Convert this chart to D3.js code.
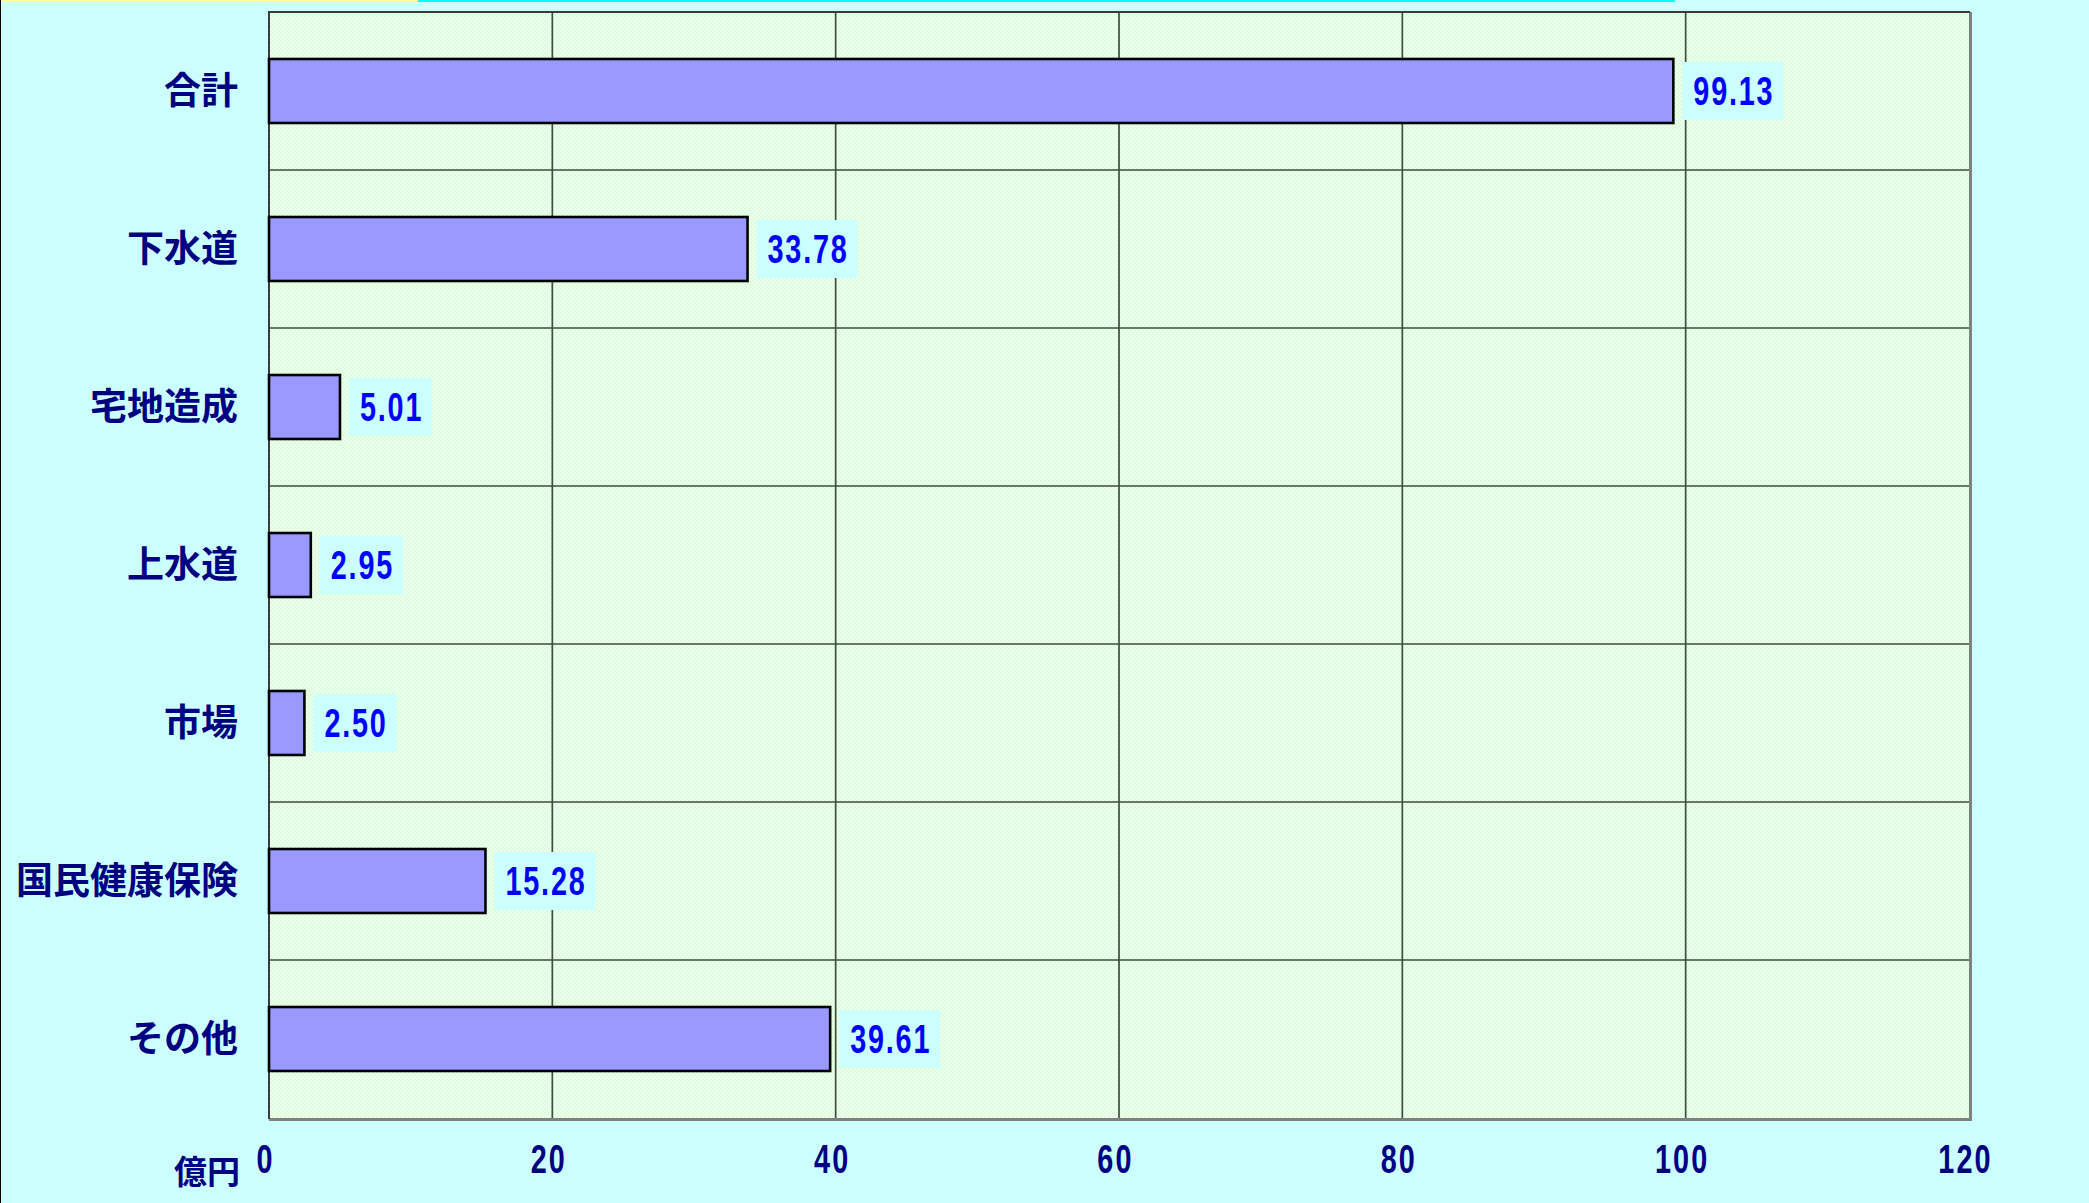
<!DOCTYPE html>
<html>
<head>
<meta charset="utf-8">
<script src="https://cdn.jsdelivr.net/npm/d3@7"></script>
<style>
  html, body { margin: 0; padding: 0; background: #ccffff; overflow: hidden; }
  .cat { font-family: "Noto Sans CJK JP", sans-serif; font-weight: 700; fill: #000080; }
  .num { font-family: "Liberation Sans", Arial, sans-serif; font-weight: 700; }
</style>
</head>
<body>
<div class="chart"></div>
<script>
const categories = ['合計', '下水道', '宅地造成', '上水道', '市場', '国民健康保険', 'その他'];
const values = [99.13, 33.78, 5.01, 2.95, 2.50, 15.28, 39.61];
const tickValues = [0, 20, 40, 60, 80, 100, 120];
const unitLabel = '億円';

const outerWidth = 2089;
const outerHeight = 1203;
const plot = { left: 269, top: 12, right: 1969, bottom: 1118 };
const squeeze = 0.72; // narrow digits like the original font

const svg = d3.select('.chart')
  .append('svg')
    .attr('width', outerWidth)
    .attr('height', outerHeight)
    .style('display', 'block');

// checkered light green fill of the plot area
const defs = svg.append('defs');
const pat = defs.append('pattern')
  .attr('id', 'checker')
  .attr('width', 4).attr('height', 4)
  .attr('patternUnits', 'userSpaceOnUse');
pat.append('rect').attr('width', 4).attr('height', 4).attr('fill', '#eefff0');
pat.append('rect').attr('width', 2).attr('height', 2).attr('fill', '#dcfddc');
pat.append('rect').attr('x', 2).attr('y', 2).attr('width', 2).attr('height', 2).attr('fill', '#dcfddc');

// page background and strips at top
svg.append('rect').attr('width', outerWidth).attr('height', outerHeight).attr('fill', '#ccffff');
svg.append('rect').attr('x', 0).attr('y', 0).attr('width', 418).attr('height', 2).attr('fill', '#ffff99');
svg.append('rect').attr('x', 418).attr('y', 0).attr('width', 1257).attr('height', 2).attr('fill', '#00ffff');
svg.append('line').attr('x1', 0.5).attr('x2', 0.5).attr('y1', 0).attr('y2', outerHeight)
  .attr('stroke', '#000').attr('stroke-width', 1);

const x = d3.scaleLinear()
  .domain([0, 120])
  .range([plot.left, plot.right]);

const y = d3.scaleBand()
  .domain(categories)
  .range([plot.top, plot.bottom])
  .paddingInner(0.595)
  .paddingOuter(0.2975);

const step = y.step();
const bw = y.bandwidth();

svg.append('rect')
  .attr('x', plot.left).attr('y', plot.top)
  .attr('width', plot.right - plot.left).attr('height', plot.bottom - plot.top)
  .attr('fill', 'url(#checker)');

// grid
svg.append('g')
  .selectAll('line')
  .data(tickValues.slice(1, -1))
  .join('line')
    .attr('x1', d => x(d)).attr('x2', d => x(d))
    .attr('y1', plot.top).attr('y2', plot.bottom)
    .attr('stroke', '#3f4d3f').attr('stroke-width', 1.7);

svg.append('g')
  .selectAll('line')
  .data(categories.slice(1))
  .join('line')
    .attr('x1', plot.left).attr('x2', plot.right)
    .attr('y1', d => y(d) - (step - bw) / 2)
    .attr('y2', d => y(d) - (step - bw) / 2)
    .attr('stroke', '#3f4d3f').attr('stroke-width', 1.7);

// plot border: dark top/left, gray shadow right/bottom
svg.append('line').attr('x1', plot.right + 1.5).attr('x2', plot.right + 1.5)
  .attr('y1', plot.top).attr('y2', plot.bottom + 3)
  .attr('stroke', '#808080').attr('stroke-width', 3);
svg.append('line').attr('x1', plot.left).attr('x2', plot.right + 3)
  .attr('y1', plot.bottom + 1.5).attr('y2', plot.bottom + 1.5)
  .attr('stroke', '#808080').attr('stroke-width', 3);
svg.append('line').attr('x1', plot.left - 1).attr('x2', plot.right + 1)
  .attr('y1', plot.top).attr('y2', plot.top)
  .attr('stroke', '#3a3a3a').attr('stroke-width', 2);
svg.append('line').attr('x1', plot.left).attr('x2', plot.left)
  .attr('y1', plot.top).attr('y2', plot.bottom + 1)
  .attr('stroke', '#3a3a3a').attr('stroke-width', 2);

// bars
const rows = categories.map((c, i) => ({ cat: c, val: values[i] }));

svg.append('g')
  .selectAll('rect')
  .data(rows)
  .join('rect')
    .attr('x', x(0))
    .attr('y', d => y(d.cat))
    .attr('width', d => x(d.val) - x(0))
    .attr('height', bw)
    .attr('fill', '#9999ff')
    .attr('stroke', '#000')
    .attr('stroke-width', 2.6);

// value labels with boxes
const lab = svg.append('g')
  .selectAll('g')
  .data(rows)
  .join('g');

lab.append('rect').attr('class', 'box').attr('fill', '#ccffff');
lab.append('text')
  .attr('class', 'num')
  .attr('transform', d => `translate(${x(d.val) + 20}, ${y(d.cat) + bw / 2}) scale(${squeeze}, 1)`)
  .attr('dy', '0.36em')
  .attr('font-size', 40)
  .attr('letter-spacing', 2.5)
  .attr('fill', '#0000ff')
  .text(d => d.val.toFixed(2));

lab.each(function (d) {
  const g = d3.select(this);
  const w = g.select('text').node().getComputedTextLength() * squeeze;
  g.select('rect')
    .attr('x', x(d.val) + 9)
    .attr('y', y(d.cat) + bw / 2 - 29)
    .attr('width', w + 20)
    .attr('height', 58);
});

// category labels
svg.append('g')
  .selectAll('text')
  .data(categories)
  .join('text')
    .attr('class', 'cat')
    .attr('x', 238)
    .attr('y', d => y(d) + bw / 2)
    .attr('dy', '0.36em')
    .attr('text-anchor', 'end')
    .attr('font-size', 37)
    .text(d => d);

// x axis labels
const xAxis = svg.append('g')
  .attr('transform', `translate(-4, 1159)`)
  .call(d3.axisBottom(x).tickValues(tickValues).tickSize(0).tickPadding(0).tickFormat(d3.format('d')));
xAxis.select('.domain').remove();
xAxis.selectAll('text')
  .attr('class', 'num')
  .attr('y', 0)
  .attr('dy', '0.36em')
  .attr('transform', `scale(${squeeze}, 1)`)
  .attr('font-size', 40)
  .attr('letter-spacing', 3)
  .attr('fill', '#000080');

svg.append('text')
  .attr('class', 'cat')
  .attr('x', 240)
  .attr('y', 1172)
  .attr('dy', '0.36em')
  .attr('text-anchor', 'end')
  .attr('font-size', 33)
  .text(unitLabel);
</script>
</body>
</html>
